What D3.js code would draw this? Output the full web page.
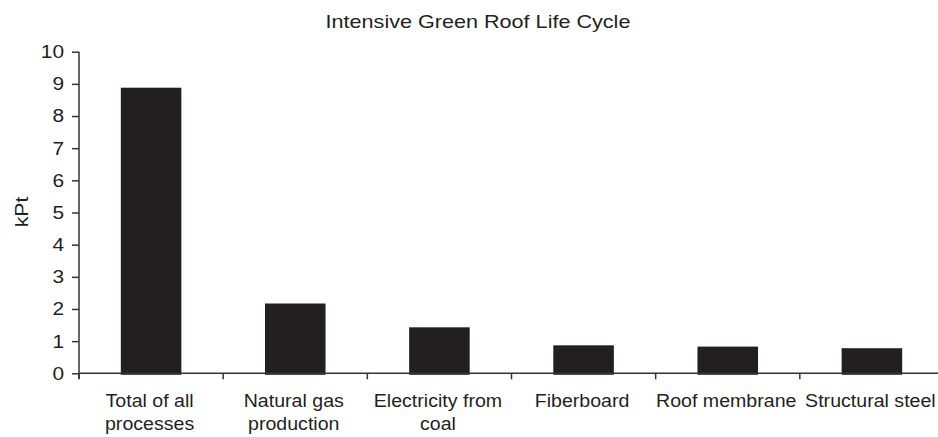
<!DOCTYPE html>
<html><head><meta charset="utf-8">
<script src="https://cdn.jsdelivr.net/npm/d3@7"></script>
<style>body{margin:0;background:#fff}text{font-family:"Liberation Sans",Arial,sans-serif;fill:#231f20}</style>
</head><body><svg id="c" width="938" height="437"></svg>
<script>
const categories = [["Total of all","processes"],["Natural gas","production"],["Electricity from","coal"],["Fiberboard"],["Roof membrane"],["Structural steel"]];
const values = [8.88, 2.17, 1.43, 0.87, 0.83, 0.78];
const yTicks = [0,1,2,3,4,5,6,7,8,9,10];
const title = "Intensive Green Roof Life Cycle";
const yLabel = "kPt";

const svg = d3.select("#c");
const x = d3.scaleBand().domain(d3.range(categories.length)).range([79, 944]).paddingInner(0.58).paddingOuter(0.29);
const y = d3.scaleLinear().domain([0,10]).range([373.3, 51.7]);

svg.append("text").attr("transform","translate(478,28) scale(1.2,1)").attr("text-anchor","middle").attr("font-size",18).text(title);

svg.selectAll("rect.bar").data(values).enter().append("rect")
  .attr("x",(d,i)=>x(i)).attr("width",x.bandwidth())
  .attr("y",d=>y(d)).attr("height",d=>y(0)-y(d)+1.5).attr("fill","#231f20");

const sy = 1.13;
const yAxis = svg.append("g").attr("transform","translate(79,0)")
  .call(d3.axisLeft(y).tickValues(yTicks).tickSize(7).tickSizeOuter(0).tickPadding(8));
yAxis.select(".domain").attr("stroke","#333").attr("stroke-width",1.5).attr("d","M0,51.7V379");
yAxis.selectAll(".tick line").attr("stroke","#333").attr("stroke-width",1.5);
yAxis.selectAll(".tick text").attr("font-size",18.5).attr("font-family","Liberation Sans, Arial, sans-serif").attr("fill","#231f20")
  .attr("x",-15/sy).attr("transform",`scale(${sy},1)`);

// x axis
const step = x.step();
const xb = d3.scaleLinear().domain([0,6]).range([79,79+6*step]);
const gx = svg.append("g").attr("transform","translate(0,373.3)");
gx.append("line").attr("x1",79).attr("x2",944).attr("stroke","#333").attr("stroke-width",1.5);
gx.selectAll("line.t").data(d3.range(0,6)).enter().append("line")
  .attr("x1",d=>xb(d)).attr("x2",d=>xb(d)).attr("y1",0).attr("y2",6).attr("stroke","#333").attr("stroke-width",1.5);
gx.selectAll("text").data(categories).enter().append("text")
  .attr("text-anchor","middle").attr("font-size",17.5)
  .attr("transform",(d,i)=>`translate(${x(i)+x.bandwidth()/2-1.5},0) scale(1.12,1)`)
  .selectAll("tspan").data(d=>d).enter().append("tspan")
  .attr("x",0).attr("y",(d,j)=>33.4+j*23.3).text(d=>d);

svg.append("text").attr("transform","translate(28,212) rotate(-90) scale(1.15,1)").attr("text-anchor","middle").attr("font-size",18.5).text(yLabel);
</script></body></html>
